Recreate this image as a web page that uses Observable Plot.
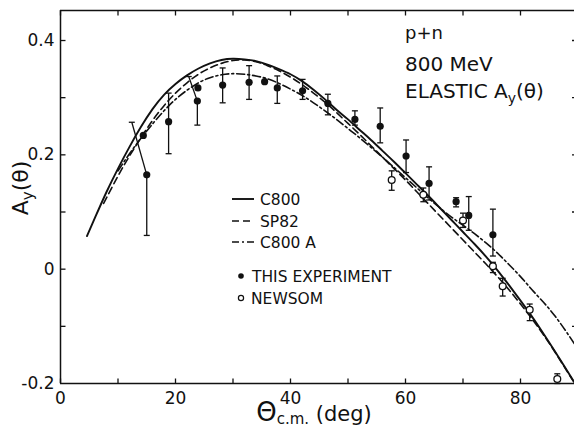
<!DOCTYPE html>
<html><head><meta charset="utf-8">
<script src="https://cdn.jsdelivr.net/npm/d3@7"></script>
<script src="https://cdn.jsdelivr.net/npm/@observablehq/plot@0.6"></script>
<style>
html,body{margin:0;padding:0;background:#fff;overflow:hidden;}
#chart svg{display:block;}
</style></head><body><div id="chart"></div>
<script>
// THIS EXPERIMENT (filled)
const expTheta   = [14.4, 15.0, 18.8, 23.8, 23.9, 28.2, 32.8, 35.5, 37.7, 42.1, 46.5, 51.2, 55.6, 60.1, 64.1, 68.8, 71.0, 75.2];
const expA       = [0.234, 0.165, 0.258, 0.294, 0.317, 0.322, 0.327, 0.328, 0.317, 0.312, 0.290, 0.262, 0.250, 0.198, 0.150, 0.118, 0.094, 0.060];
const expLo      = [null, 0.059, 0.202, 0.252, null, 0.291, 0.297, null, 0.290, 0.297, 0.270, 0.252, 0.221, 0.169, 0.121, 0.109, 0.068, 0.023];
const expHi      = [null, 0.257, 0.308, 0.337, null, 0.352, 0.356, null, 0.338, 0.332, 0.306, 0.277, 0.282, 0.226, 0.179, 0.125, 0.127, 0.105];
const expHiTheta = [14.4, 12.4, 18.8, 22.3, 23.9, 28.2, 32.8, 35.5, 37.7, 42.1, 46.5, 51.2, 55.6, 60.1, 64.1, 68.8, 71.0, 75.2];
// NEWSOM (open)
const newTheta = [57.6, 63.1, 70.0, 75.2, 76.9, 81.6, 86.4];
const newA     = [0.156, 0.130, 0.085, 0.005, -0.030, -0.071, -0.192];
const newLo    = [0.138, 0.118, 0.073, -0.006, -0.047, -0.090, -0.200];
const newHi    = [0.172, 0.142, 0.098, 0.012, -0.016, -0.061, -0.183];
// Curves
const c800Theta = [4.6, 6, 8, 10, 12, 14, 16, 18, 20, 22, 24, 26, 28, 30, 32, 34, 36, 38, 40, 42, 44, 46, 48, 50, 52, 54, 56, 58, 60, 62, 64, 66, 68, 70, 72, 74, 76, 78, 80, 82, 84, 86, 88, 90];
const c800A = [0.058, 0.090, 0.135, 0.176, 0.214, 0.249, 0.280, 0.305, 0.324, 0.339, 0.351, 0.360, 0.366, 0.368, 0.367, 0.364, 0.358, 0.350, 0.341, 0.329, 0.314, 0.297, 0.279, 0.262, 0.244, 0.226, 0.207, 0.188, 0.168, 0.148, 0.128, 0.107, 0.086, 0.065, 0.044, 0.022, -0.002, -0.028, -0.055, -0.083, -0.113, -0.144, -0.176, -0.208];
const sp82Theta = [7.5, 10, 12, 14, 16, 18, 20, 22, 24, 26, 28, 30, 32, 34, 36, 38, 40, 42, 44, 46, 48, 50, 52, 54, 56, 58, 60, 62, 64, 66, 68, 70, 72, 74, 76, 78, 80, 82, 84, 86, 88, 90];
const sp82A = [0.115, 0.163, 0.198, 0.230, 0.260, 0.286, 0.308, 0.326, 0.341, 0.352, 0.360, 0.365, 0.366, 0.363, 0.356, 0.347, 0.336, 0.323, 0.308, 0.292, 0.274, 0.255, 0.236, 0.216, 0.196, 0.176, 0.156, 0.135, 0.114, 0.093, 0.072, 0.051, 0.030, 0.009, -0.013, -0.036, -0.061, -0.087, -0.115, -0.145, -0.177, -0.209];
const c800aTheta = [10, 12, 14, 16, 18, 20, 22, 24, 26, 28, 30, 32, 34, 36, 38, 40, 42, 44, 46, 48, 50, 52, 54, 56, 58, 60, 62, 64, 66, 68, 70, 72, 74, 76, 78, 80, 82, 84, 86, 88, 90];
const c800aA = [0.172, 0.202, 0.229, 0.254, 0.277, 0.297, 0.313, 0.326, 0.335, 0.340, 0.342, 0.341, 0.338, 0.333, 0.325, 0.315, 0.304, 0.291, 0.277, 0.262, 0.246, 0.230, 0.213, 0.196, 0.178, 0.160, 0.142, 0.124, 0.107, 0.091, 0.077, 0.062, 0.046, 0.028, 0.008, -0.013, -0.036, -0.058, -0.082, -0.110, -0.140];
// Axes
const xTicks = [0, 10, 20, 30, 40, 50, 60, 70, 80, 90];
const xTickLabels = [0, 20, 40, 60, 80];
const yTicks = [-0.1, 0, 0.1, 0.2, 0.3, 0.4];
const yTickValues = [0.4, 0.2, 0, -0.2];
const yTickText = ["0.4", "0.2", "0", "-0.2"];
const X_DOMAIN = [0, 90], Y_DOMAIN = [-0.2, 0.4525];

const F = "DejaVu Sans";
const exp = expTheta.map((t, i) => ({t, a: expA[i], lo: expLo[i], hi: expHi[i], ht: expHiTheta[i]}));
const nw = newTheta.map((t, i) => ({t, a: newA[i], lo: newLo[i], hi: newHi[i], ht: t}));
const bars = exp.concat(nw).filter(d => d.lo != null);
const curve = (th, a) => th.map((t, i) => ({t, a: a[i]}));

function sym(dx, dy) { return {draw(ctx, size) { const r = Math.sqrt(size / Math.PI); ctx.moveTo(0, 0); ctx.lineTo(dx * r, dy * r); }}; }
const capSym = {draw(ctx, size) { const r = Math.sqrt(size / Math.PI); ctx.moveTo(-r, 0); ctx.lineTo(r, 0); }};

const plot = Plot.plot({
  width: 574, height: 427,
  marginLeft: 60, marginTop: 10, marginRight: 0, marginBottom: 44,
  x: {domain: X_DOMAIN, range: [60, 577.5], axis: null},
  y: {domain: Y_DOMAIN, axis: null},
  style: {background: "white", fontFamily: F},
  marks: [
    Plot.ruleY([Y_DOMAIN[1]], {stroke: "#111", strokeWidth: 1.5}),
    Plot.ruleY([Y_DOMAIN[0]], {stroke: "#111", strokeWidth: 1.5}),
    Plot.ruleX([X_DOMAIN[0]], {stroke: "#111", strokeWidth: 1.5}),
    // ticks (inward)
    Plot.dot(xTicks, {x: d => d, y: () => Y_DOMAIN[0], symbol: sym(0, -1), r: 5, stroke: "#111", fill: "none", strokeWidth: 1.3}),
    Plot.dot(xTicks, {x: d => d, y: () => Y_DOMAIN[1], symbol: sym(0, 1), r: 5, stroke: "#111", fill: "none", strokeWidth: 1.3}),
    Plot.dot(yTicks, {x: () => X_DOMAIN[0], y: d => d, symbol: sym(1, 0), r: 5, stroke: "#111", fill: "none", strokeWidth: 1.3}),
    Plot.dot(yTicks, {x: () => X_DOMAIN[1], y: d => d, symbol: sym(-1, 0), r: 6, stroke: "#111", fill: "none", strokeWidth: 1.3}),
    // tick labels
    Plot.text(xTickLabels, {x: d => d, y: () => Y_DOMAIN[0], text: d => String(d), dy: 15, fontSize: 17, fill: "#111"}),
    Plot.text(yTickValues, {x: () => X_DOMAIN[0], y: d => d, text: (d, i) => yTickText[i], dx: -6, textAnchor: "end", fontSize: 17, fill: "#111"}),
    // curves
    Plot.line(curve(c800Theta, c800A), {x: "t", y: "a", curve: "natural", stroke: "#111", strokeWidth: 1.9, clip: true}),
    Plot.line(curve(sp82Theta, sp82A), {x: "t", y: "a", curve: "natural", stroke: "#111", strokeWidth: 1.6, strokeDasharray: "7,4", clip: true}),
    Plot.line(curve(c800aTheta, c800aA), {x: "t", y: "a", curve: "natural", stroke: "#111", strokeWidth: 1.6, strokeDasharray: "8,3,2,3", clip: true}),
    // error bars
    Plot.link(bars, {x1: "t", y1: "lo", x2: "t", y2: "a", stroke: "#111", strokeWidth: 1.3}),
    Plot.link(bars, {x1: "t", y1: "a", x2: "ht", y2: "hi", stroke: "#111", strokeWidth: 1.3}),
    Plot.dot(bars, {x: "t", y: "lo", symbol: capSym, r: 3, stroke: "#111", fill: "none", strokeWidth: 1.3}),
    Plot.dot(bars, {x: "ht", y: "hi", symbol: capSym, r: 3, stroke: "#111", fill: "none", strokeWidth: 1.3}),
    // points
    Plot.dot(exp, {x: "t", y: "a", r: 3.6, fill: "#111", stroke: "none"}),
    Plot.dot(nw, {x: "t", y: "a", r: 3.4, fill: "white", stroke: "#111", strokeWidth: 1.3})
  ]
});
document.getElementById("chart").appendChild(plot);

// annotations, legend and axis titles
const svg = d3.select(plot);
const g = svg.append("g").attr("font-family", F).attr("fill", "#111").attr("text-anchor", "start");
g.append("text").attr("x", 405).attr("y", 39).attr("font-size", 18).text("p+n");
g.append("text").attr("x", 405).attr("y", 71).attr("font-size", 20).text("800 MeV");
const el = g.append("text").attr("x", 405).attr("y", 98).attr("font-size", 20);
el.append("tspan").text("ELASTIC A");
el.append("tspan").attr("font-size", 14).attr("dy", 5).text("y");
el.append("tspan").attr("dy", -5).text("(θ)");

const legLines = [{y: 199, dash: null, label: "C800", w: 1.9}, {y: 221, dash: "7,4", label: "SP82", w: 1.6}, {y: 242, dash: "7,3,2,3", label: "C800 A", w: 1.6}];
legLines.forEach(d => {
  g.append("line").attr("x1", 232).attr("x2", 254).attr("y1", d.y).attr("y2", d.y)
    .attr("stroke", "#111").attr("stroke-width", d.w).attr("stroke-dasharray", d.dash);
  g.append("text").attr("x", 260).attr("y", d.y + 6).attr("font-size", 15.5).text(d.label);
});
g.append("circle").attr("cx", 241).attr("cy", 276).attr("r", 2.8).attr("fill", "#111");
g.append("text").attr("x", 252).attr("y", 282).attr("font-size", 15.5).text("THIS EXPERIMENT");
g.append("circle").attr("cx", 241).attr("cy", 298).attr("r", 2.6).attr("fill", "white").attr("stroke", "#111").attr("stroke-width", 1.2);
g.append("text").attr("x", 251).attr("y", 304).attr("font-size", 15.5).text("NEWSOM");

const yl = g.append("text").attr("transform", "translate(28,188) rotate(-90)").attr("text-anchor", "middle").attr("font-size", 22);
yl.append("tspan").text("A");
yl.append("tspan").attr("font-size", 15).attr("dy", 5).text("y");
yl.append("tspan").attr("dy", -5).text("(θ)");

const xl = g.append("text").attr("x", 314).attr("y", 421).attr("text-anchor", "middle").attr("font-size", 21);
xl.append("tspan").attr("font-size", 26).text("Θ");
xl.append("tspan").attr("font-size", 15).attr("dy", 3).text("c.m.");
xl.append("tspan").attr("dy", -3).text(" (deg)");
</script></body></html>
